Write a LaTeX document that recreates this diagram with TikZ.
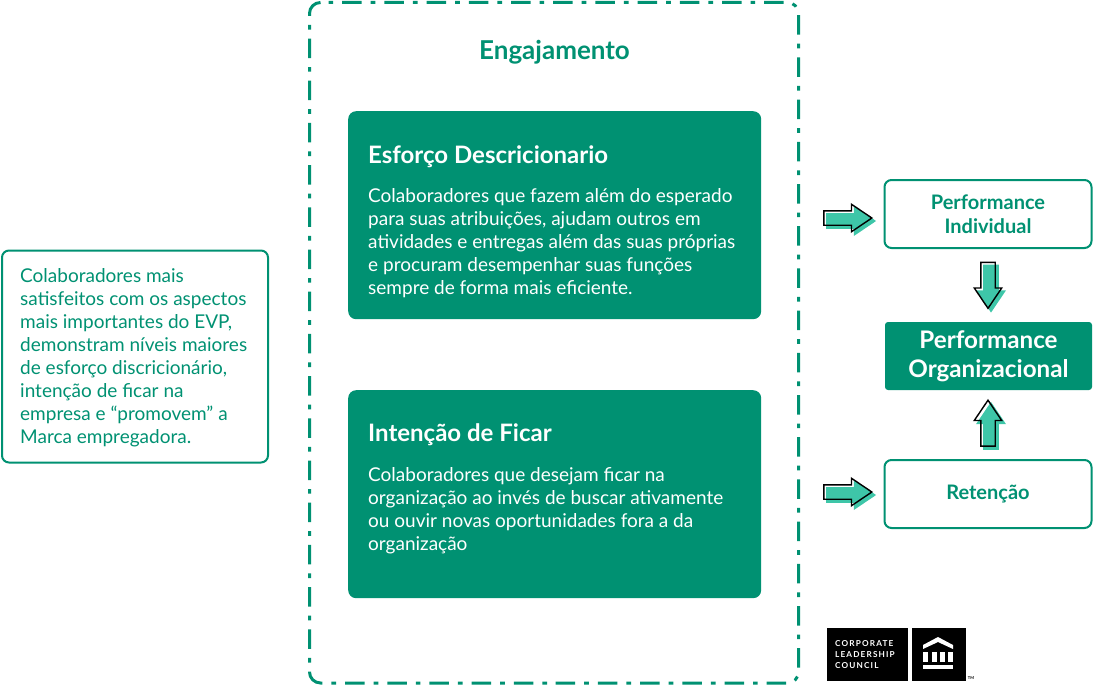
\documentclass[tikz,border=0pt]{standalone}
\usepackage{fontspec}
\setmainfont{Lato}
\usetikzlibrary{positioning,shapes.arrows,shadows}
\definecolor{clcgreen}{HTML}{009172}
\definecolor{clcarrow}{HTML}{3EC6A8}

\begin{document}
\begin{tikzpicture}[
  x=1pt, y=-1pt,
  every node/.style={font=\fontsize{19}{23}\selectfont, inner sep=0pt},
  solidbox/.style={fill=clcgreen, rounded corners=8pt, text=white, anchor=north west},
  linebox/.style={draw=clcgreen, line width=2pt, fill=white, rounded corners=7pt, text=clcgreen, align=center, minimum width=207pt, minimum height=68pt,
    font=\fontsize{20}{24}\selectfont\bfseries},
  boxtitle/.style={font=\fontsize{24}{27}\selectfont\bfseries, text=white, anchor=west},
  boxbody/.style={text=white, align=left, anchor=north west},
  framepart/.style={clcgreen, line width=3pt, rounded corners=11pt, dash pattern=on 19.5pt off 9pt on 4.7pt off 9pt},
  blockarrow/.style={single arrow, draw=black, line width=1.4pt, inner sep=6.5pt, minimum height=48pt,
    single arrow head extend=6.5pt, single arrow tip angle=68, single arrow head indent=0pt,
    copy shadow={shadow xshift=3pt, shadow yshift=-3pt, fill=clcarrow, draw=clcarrow}},
  logotext/.style={font=\fontsize{8.2}{11}\selectfont\bfseries\addfontfeature{LetterSpace=14}, text=white, align=left, anchor=north west}
]
  \useasboundingbox (0,0) rectangle (1093,685);

  %--- left note
  \node[draw=clcgreen, line width=2pt, rounded corners=7pt, anchor=north west, minimum width=266pt, minimum height=212pt] (note) at (1,249.5) {};
  \node[text=clcgreen, align=left, anchor=north west] (notetext) at (20,268.5) {Colaboradores mais\\satisfeitos com os aspectos\\mais importantes do EVP,\\demonstram níveis maiores\\de esforço discricionário,\\intenção de ficar na\\empresa e “promovem” a\\Marca empregadora.};

  %--- engagement frame
  \draw[framepart, dash phase=20.5pt] (320.5,2.5) -- (798.5,2.5) -- (798.5,683) -- (554,683);
  \draw[framepart] (320.5,2.5) -- (309.5,2.5) -- (309.5,683) -- (554,683);
  \node[font=\fontsize{26}{28}\selectfont\bfseries, text=clcgreen] (engtitle) at (554.5,52) {Engajamento};

  %--- green boxes
  \node[solidbox, minimum width=413pt, minimum height=208pt] (esforco) at (348,111) {};
  \node[boxtitle] (esforcotitle) at (368,157) {Esforço Descricionario};
  \node[boxbody] (esforcotext) at (368,188.5) {Colaboradores que fazem além do esperado\\para suas atribuições, ajudam outros em\\atividades e entregas além das suas próprias\\e procuram desempenhar suas funções\\sempre de forma mais eficiente.};

  \node[solidbox, minimum width=413pt, minimum height=208pt] (intencao) at (348,390) {};
  \node[boxtitle] (intencaotitle) at (368,435) {Intenção de Ficar};
  \node[boxbody] (intencaotext) at (368,467) {Colaboradores que desejam ficar na\\organização ao invés de buscar ativamente\\ou ouvir novas oportunidades fora a da\\organização};

  %--- right column
  \node[linebox] (perfind) at (988,214) {Performance\\Individual};
  \node[solidbox, anchor=center, rounded corners=3pt, align=center, minimum width=207pt, minimum height=68pt,
    font=\fontsize{24.2}{29}\selectfont\bfseries] (perforg) at (988.5,356) {Performance\\Organizacional};
  \node[linebox] (retencao) at (988,494) {\raisebox{-1pt}{Retenção}};

  %--- block arrows
  \node[blockarrow] (arrowind) at (842.5,218) {};
  \node[blockarrow] (arrowret) at (842.5,492) {};
  \node[blockarrow, shape border rotate=270, minimum height=46pt] (arrowdown) at (988,280) {};
  \node[blockarrow, shape border rotate=90, minimum height=46pt] (arrowup) at (988,428.5) {};

  %--- logo
  \node[fill=black, anchor=north west, minimum width=81pt, minimum height=53pt] (logoleft) at (827,628) {};
  \node[fill=black, anchor=north west, minimum width=54pt, minimum height=53pt] (logoright) at (912,628) {};
  \node[logotext] (logotxt) at (835,640) {CORPORATE\\LEADERSHIP\\COUNCIL};
  \fill[white] (923,645) -- (938,637) -- (953,645) -- (953,649) -- (938,642) -- (923,649) -- cycle;
  \foreach \colx in {923.3,931.6,939.9,948.2} {
    \fill[white] (\colx,652) rectangle ++(5,10);
  }
  \fill[white] (923,665) rectangle (953,669);
  \node[font=\fontsize{4}{4}\selectfont\bfseries] (logotm) at (971,678) {TM};
\end{tikzpicture}
\end{document}
